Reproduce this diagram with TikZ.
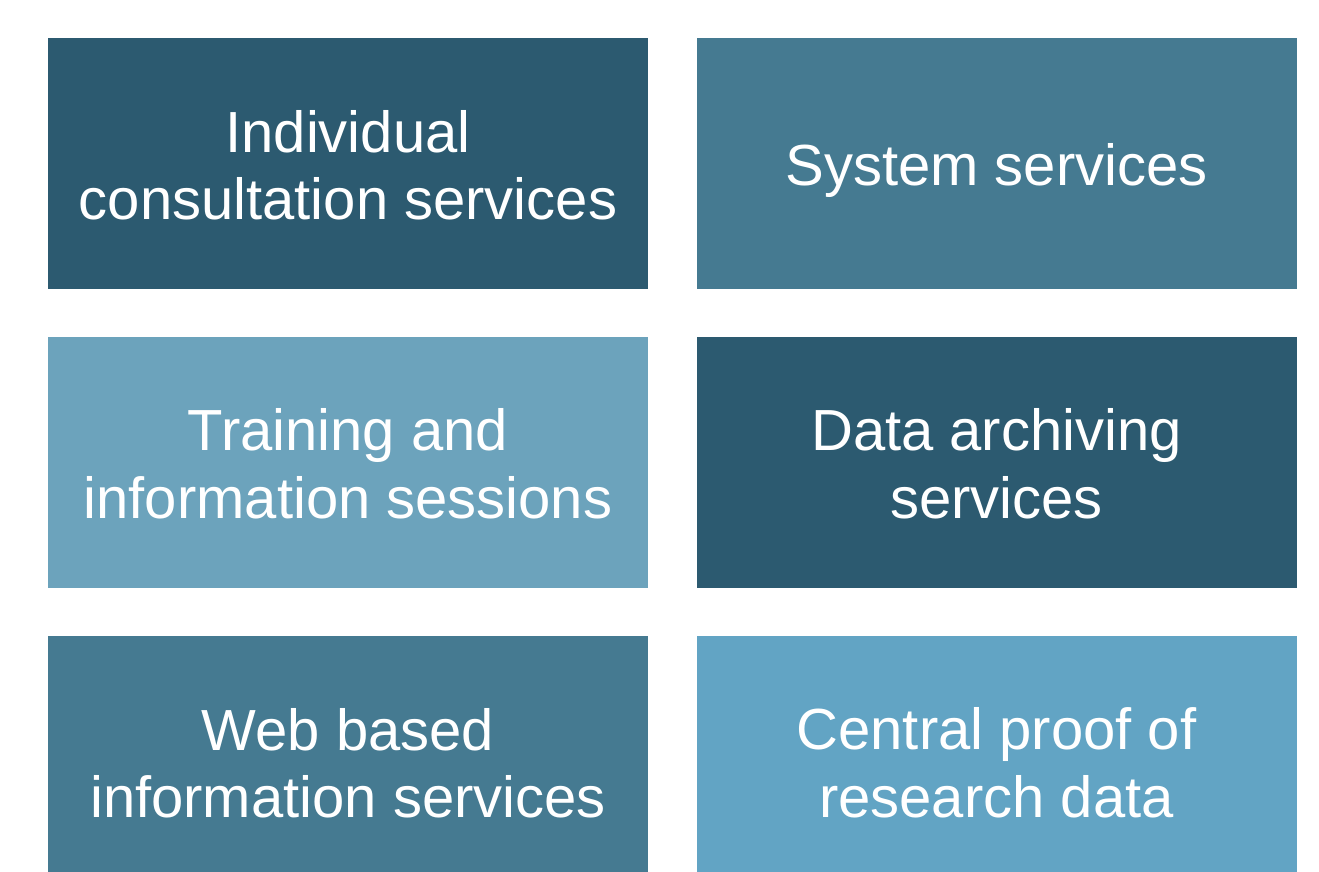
\documentclass[tikz,border=0pt]{standalone}
\usepackage{fontspec}
\setmainfont{Liberation Sans}
\definecolor{cdark}{HTML}{2C5A70}
\definecolor{cmid}{HTML}{457A91}
\definecolor{clight}{HTML}{6CA3BC}
\definecolor{clighter}{HTML}{62A4C4}
\newcommand{\tilestrut}{\rule[-11.5pt]{0pt}{67pt}}
\begin{document}
\begin{tikzpicture}[x=1pt,y=-1pt,
  tile/.style={minimum width=600pt,minimum height=251pt,inner sep=0pt,
    text=white,align=center,font=\fontsize{58}{67}\selectfont}]
\useasboundingbox[fill=white] (0,0) rectangle (1319,872);
\clip (0,0) rectangle (1319,872);
\node[tile,fill=cdark] (ics) at (348,163.5) {\tilestrut Individual\\consultation services\tilestrut};
\node[tile,fill=cmid] (sys) at (996.5,163.5) {\tilestrut System services\tilestrut};
\node[tile,fill=clight] (tis) at (348,462.5) {\tilestrut Training and\\information sessions\tilestrut};
\node[tile,fill=cdark] (das) at (996.5,462.5) {\tilestrut Data archiving\\services\tilestrut};
\node[tile,fill=cmid] (wbi) at (348,761.5) {\tilestrut Web based\\information services\tilestrut};
\node[tile,fill=clighter] (cpr) at (996.5,761.5) {\tilestrut Central proof of\\research data\tilestrut};
\end{tikzpicture}
\end{document}
